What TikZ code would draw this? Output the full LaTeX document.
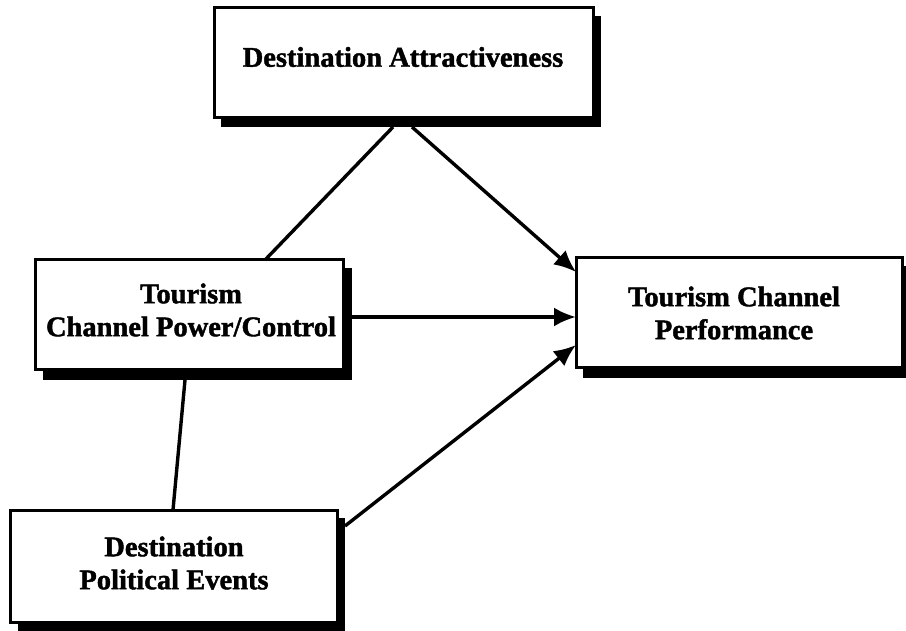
\documentclass[tikz,border=0pt]{standalone}
\usepackage{fontspec}
\setmainfont[BoldFeatures={FakeBold=1.5}]{Liberation Serif}
\usetikzlibrary{arrows.meta}
\begin{document}
\begin{tikzpicture}[x=1pt,y=-1pt,
  boxbody/.style={draw=black,line width=3pt,fill=white},
  shadowbox/.style={fill=black},
  lbl/.style={font=\fontsize{28.5}{33}\selectfont\bfseries,align=center},
  conn/.style={line width=3.4pt},
  arr/.style={conn,-{Latex[length=22pt,width=19pt]}}]
\useasboundingbox (0,0) rectangle (906,631);
% Destination Attractiveness
\fill[shadowbox] (221,16) rectangle (601,127);
\draw[boxbody] (214,8) rectangle (593,118);
\node[lbl] (A) at (403,57) {Destination Attractiveness};
\coordinate (Abl) at (393,127);
\coordinate (Abr) at (412,127);
% Tourism Channel Power/Control
\fill[shadowbox] (43,268) rectangle (352,380);
\draw[boxbody] (35,260) rectangle (343,370);
\node[lbl] (B) at (191,310) {Tourism\\Channel Power/Control};
\coordinate (Bt) at (265,260);
\coordinate (Br) at (352,317);
\coordinate (Bb) at (185,380);
% Tourism Channel Performance
\fill[shadowbox] (583,266) rectangle (906,378);
\draw[boxbody] (576,258) rectangle (902,368);
\node[lbl] (C) at (734,313) {Tourism Channel\\Performance};
\coordinate (Ct) at (576,272);
\coordinate (Cm) at (576,317);
\coordinate (Cb) at (576,345);
% Destination Political Events
\fill[shadowbox] (18,518) rectangle (345,631);
\draw[boxbody] (10,510) rectangle (337,622);
\node[lbl] (D) at (174,563) {Destination\\Political Events};
\coordinate (Dt) at (173,510);
\coordinate (Dr) at (345,526);
% connectors
\draw[conn] (Bt) -- (Abl);
\draw[conn] (Bb) -- (Dt);
\draw[arr] (Abr) -- (Ct);
\draw[arr] (Br) -- (Cm);
\draw[arr] (Dr) -- (Cb);
\end{tikzpicture}
\end{document}
